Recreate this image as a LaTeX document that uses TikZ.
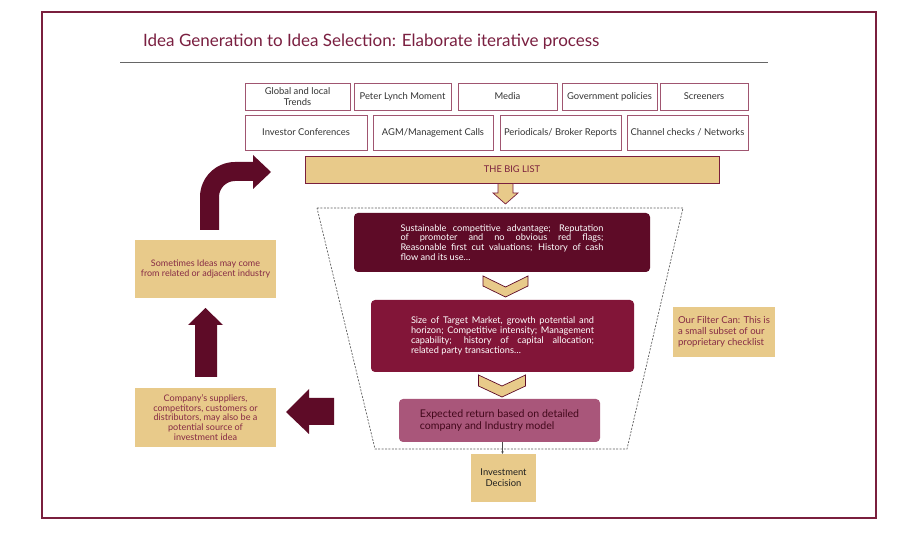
\documentclass[tikz,border=0pt]{standalone}
\usepackage{fontspec}
\setmainfont{Lato}
\usetikzlibrary{arrows.meta}
\definecolor{maroonD}{HTML}{5E0B27}
\definecolor{maroonM}{HTML}{821538}
\definecolor{mauve}{HTML}{A9567A}
\definecolor{tan}{HTML}{E8CA8A}
\definecolor{frame}{HTML}{7A1F3D}
\definecolor{titlec}{HTML}{7A1F40}
\definecolor{srcb}{HTML}{A05570}
\definecolor{txtg}{HTML}{333333}
\definecolor{tantext}{HTML}{862B45}
\tikzset{
  srcbox/.style={draw=srcb, line width=0.9pt, fill=white, text=txtg, align=center, inner sep=1pt,
    font=\fontsize{9.4}{11.5}\selectfont},
  tanbox/.style={fill=tan, text=tantext, align=center, inner sep=1pt, font=\fontsize{9}{10.5}\selectfont},
  filterbox/.style={rounded corners=4pt, inner sep=0pt, font=\fontsize{9.2}{9.8}\selectfont, align=justify},
  blockarrow/.style={fill=maroonD, draw=none},
  chev/.style={fill=tan, draw=maroonD, line width=0.7pt, line join=miter},
}
\begin{document}
\begin{tikzpicture}[x=1pt,y=-1pt]
\useasboundingbox (0,0) rectangle (903,537);
\fill[white] (0,0) rectangle (903,537);
% frame
\draw[frame, line width=1.4pt] (42,12) rectangle (876,518);
% title
\node[anchor=base west, inner sep=0pt, text=titlec, font=\fontsize{17}{20}\selectfont] (title) at (143,46.5)
  {Idea Generation to Idea Selection: Elaborate iterative process};
\coordinate (rl) at (120,62);
\coordinate (rr) at (768,62);
\draw[gray!80!black, line width=0.9pt] (rl) -- (rr);

% source boxes row 1
\node[srcbox, minimum width=105pt, minimum height=27pt] (s1) at (297.5,96.5) {Global and local\\Trends};
\node[srcbox, minimum width=97pt, minimum height=27pt] (s2) at (402.5,96.5) {Peter Lynch Moment};
\node[srcbox, minimum width=99pt, minimum height=27pt] (s3) at (507.5,96.5) {Media};
\node[srcbox, minimum width=95pt, minimum height=27pt] (s4) at (609.5,96.5) {Government policies};
\node[srcbox, minimum width=88pt, minimum height=27pt] (s5) at (704,96.5) {Screeners};
% row 2
\node[srcbox, minimum width=122pt, minimum height=35pt] (t1) at (306,132.5) {Investor Conferences};
\node[srcbox, minimum width=120pt, minimum height=35pt] (t2) at (433,132.5) {AGM/Management Calls};
\node[srcbox, minimum width=121pt, minimum height=35pt] (t3) at (560.5,132.5) {Periodicals/ Broker Reports};
\node[srcbox, minimum width=121pt, minimum height=35pt] (t4) at (687.5,132.5) {Channel checks / Networks};

% big list
\node[fill=tan, draw=frame, line width=0.9pt, minimum width=414pt, minimum height=27pt, inner sep=0pt,
  text=frame, font=\fontsize{9.3}{10}\selectfont] (big) at (512,169.5) {THE BIG LIST};
% down arrow
\fill[tan, draw=frame, line width=0.7pt, line join=miter]
  (498,183.5) -- (513,183.5) -- (513,193) -- (518,193) -- (505.5,204) -- (493,193) -- (498,193) -- cycle;

% funnel
\draw[gray!75!black, line width=0.7pt, dash pattern=on 2pt off 1.4pt]
  (317,208) -- (683,208) -- (627,449) -- (375,449) -- cycle;

% filter boxes
\node[filterbox, fill=maroonD, text=white, minimum width=296pt, minimum height=59pt, text width=203pt] (f1) at (502,242.5)
  {Sustainable competitive advantage; Reputation\linebreak of promoter and no obvious red flags;\linebreak Reasonable first cut valuations; History of cash\linebreak flow and its use\ldots};
\node[filterbox, fill=maroonM, text=white, minimum width=263pt, minimum height=72pt, text width=183pt] (f2) at (502.5,336)
  {Size of Target Market, growth potential and\linebreak horizon; Competitive intensity; Management\linebreak capability; history of capital allocation;\linebreak related party transactions\ldots};
\node[filterbox, fill=mauve, text=maroonD!70!black, minimum width=201pt, minimum height=43pt, align=left,
  font=\fontsize{10.6}{11.2}\selectfont] (f3) at (499.5,420.5)
  {Expected return based on detailed\\company and Industry model};

% chevrons
\fill[chev] (483,276) -- (505.5,287) -- (528,276) -- (528,286) -- (505.5,297) -- (483,286) -- cycle;
\fill[chev] (478.5,375) -- (502,386) -- (525.5,375) -- (525.5,386) -- (502,397) -- (478.5,386) -- cycle;

% investment decision
\node[fill=tan, text=txtg!60!black, minimum width=65pt, minimum height=48pt, inner sep=1pt, align=center,
  font=\fontsize{9.4}{11}\selectfont] (dec) at (503.5,478) {Investment\\Decision};
\draw[gray!60!black, line width=0.5pt, -{Stealth[length=2.5pt,width=2.5pt]}] (f3.south) ++(3,0) coordinate (fs) -- (fs |- dec.north);

% filter can label
\node[tanbox, minimum width=102pt, minimum height=50pt, align=left, font=\fontsize{9.6}{11}\selectfont] (can) at (724,332)
  {Our Filter Can: This is\\a small subset of our\\proprietary checklist};

% left boxes
\node[tanbox, minimum width=141pt, minimum height=58pt, font=\fontsize{9}{10.6}\selectfont] (some) at (205.5,269)
  {Sometimes Ideas may come\\from related or adjacent industry};
\node[tanbox, minimum width=141pt, minimum height=59pt, font=\fontsize{9.1}{9.8}\selectfont] (comp) at (205.5,417.5)
  {Company’s suppliers,\\competitors, customers or\\distributors, may also be a\\potential source of\\investment idea};

% left arrow (from funnel to company box)
\fill[blockarrow] (334,398) -- (309,398) -- (309,389) -- (286,412) -- (309,434) -- (309,425) -- (334,425) -- cycle;
% up arrow
\fill[blockarrow] (195,377) -- (195,325) -- (188,325) -- (205.5,308) -- (223,325) -- (217,325) -- (217,377) -- cycle;
% bent arrow
\fill[blockarrow] (200,230) -- (200,197) .. controls (200,177.7) and (215.7,162) .. (235,162)
  -- (253,162) -- (253,155) -- (271,172) -- (253,189) -- (253,181) -- (235,181)
  .. controls (226.2,181) and (219,188.2) .. (219,197) -- (219,230) -- cycle;
\end{tikzpicture}
\end{document}
